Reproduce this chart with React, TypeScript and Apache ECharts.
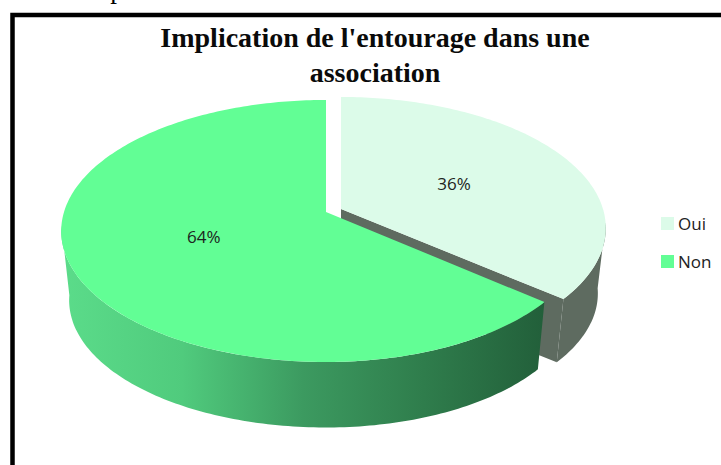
import React, { useEffect, useRef } from "react";
import * as echarts from "echarts";

const categories = ["Oui", "Non"];
const shares = [36, 64];
const colors = ["#dcfbe9", "#62fe95"];
const titleLines = ["Implication de l'entourage dans une", "association"];

const TOTAL = shares.reduce((a, b) => a + b, 0);
const C = -0.145, A = 128.25, D = 262, BOTTOM_SCALE = 0.97;
const depths = [66, 70];
const tips = [[341, 209], [326, 212]];
const rightScales = [1, 0.982];
const labelOffsets = [[-2, 1], [0, -4]];

function project(idx: number, deg: number, r = 1, low = false) {
  const tip = tips[idx];
  const t = (deg * Math.PI) / 180;
  const u = r * Math.sin(t), v = -r * Math.cos(t);
  const w = 1 + C * v;
  const s = (low ? BOTTOM_SCALE : 1) * (u > 0 ? rightScales[idx] : 1);
  return [tip[0] + (s * D * u) / w, tip[1] + (low ? depths[idx] : 0) + ((low ? BOTTOM_SCALE : 1) * A * v) / w];
}
function arc(idx: number, from: number, to: number, low = false) {
  const pts: number[][] = [];
  const n = Math.max(2, Math.ceil(Math.abs(to - from)));
  for (let i = 0; i <= n; i++) pts.push(project(idx, from + ((to - from) * i) / n, 1, low));
  return pts;
}

function makeRender(idx: number) {
  return (_p: any, api: any) => {
    const value = api.value(0);
    const tip = tips[idx];
    const start = idx === 0 ? 0 : (shares[0] / TOTAL) * 360;
    const end = start + (value / TOTAL) * 360;
    const mid = (start + end) / 2;
    const children: any[] = [];
    if (idx === 0) {
      const wall = [...arc(idx, 96, end), ...arc(idx, end, 96, true)];
      children.push({ type: "polygon", shape: { points: wall }, style: { fill: "#5e6b60" } });
      const cut = [tip, project(idx, end), project(idx, end, 1, true), [tip[0], tip[1] + depths[idx]]];
      children.push({ type: "polygon", shape: { points: cut }, style: { fill: "#5e6b60" } });
    } else {
      const wall = [...arc(idx, start, 264), ...arc(idx, 264, start, true)];
      children.push({
        type: "polygon",
        shape: { points: wall },
        style: {
          fill: new echarts.graphic.LinearGradient(0, 0, 1, 0, [
            { offset: 0, color: "#5bdc8a" },
            { offset: 0.25, color: "#50cb7d" },
            { offset: 0.5, color: "#3c9a60" },
            { offset: 0.75, color: "#2f7d4c" },
            { offset: 1, color: "#225f3a" },
          ]),
        },
      });
    }
    children.push({
      type: "polygon",
      shape: { points: [tip, ...arc(idx, start, end)] },
      style: { fill: colors[idx] },
    });
    const lp = project(idx, mid, 0.5);
    children.push({
      type: "text",
      style: {
        x: lp[0] + labelOffsets[idx][0], y: lp[1] + labelOffsets[idx][1],
        text: Math.round((value / TOTAL) * 100) + "%",
        fontFamily: "Open Sans", fontSize: 17, fill: "#1c2420", align: "center", verticalAlign: "middle",
      },
    });
    return { type: "group", children };
  };
}

export default function App() {
  const ref = useRef<HTMLDivElement>(null);
  useEffect(() => {
    const chart = echarts.init(ref.current!, null, { renderer: "svg" });
    chart.setOption({
      animation: false,
      backgroundColor: "#fff",
      title: {
        text: titleLines.join("\n"),
        left: 370, top: 15, textAlign: "center",
        textStyle: { fontFamily: "Liberation Serif", fontWeight: "bold", fontSize: 28, lineHeight: 35, color: "#0a0a0a" },
      },
      legend: {
        data: categories, orient: "vertical", left: 656, top: 210, icon: "rect",
        itemWidth: 13, itemHeight: 13, itemGap: 21, selectedMode: false,
        textStyle: { fontFamily: "Open Sans", fontSize: 17, color: "#222", padding: [0, 0, 0, -1] },
      },
      graphic: [
        { type: "polyline", shape: { points: [[12.5, 465], [12.5, 15], [721, 15]] }, style: { stroke: "#000", lineWidth: 4.5, fill: "none" } },
        { type: "text", style: { x: 117, y: 2, text: "p", fontFamily: "Liberation Serif", fontSize: 27, fill: "#000", align: "center", verticalAlign: "bottom" } },
      ],
      series: categories.map((name, i) => ({
        type: "custom", name, coordinateSystem: "none", silent: true,
        itemStyle: { color: colors[i] }, data: [[shares[i]]], renderItem: makeRender(i), z: i + 2,
      })),
    });
    return () => chart.dispose();
  }, []);
  return <div ref={ref} style={{ position: "absolute", left: 0, top: 0, width: 721, height: 465 }} />;
}
